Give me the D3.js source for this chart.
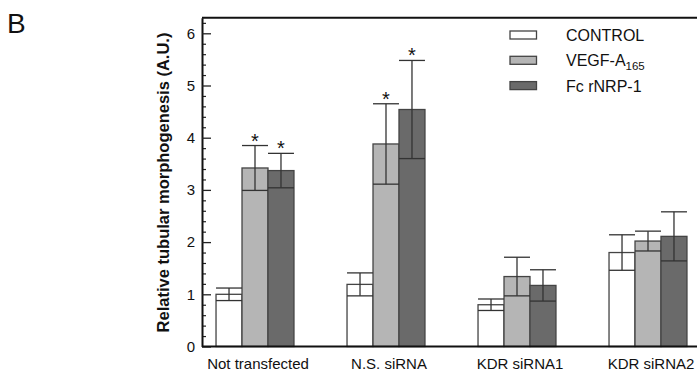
<!DOCTYPE html>
<html>
<head>
<meta charset="utf-8">
<script src="https://cdn.jsdelivr.net/npm/d3@7"></script>
<style>
  body { margin: 0; background: #fff; }
  text { font-family: "Liberation Sans", Arial, sans-serif; fill: #111; }
</style>
</head>
<body>
<svg width="697" height="372"></svg>
<script>
const categories = ["Not transfected", "N.S. siRNA", "KDR siRNA1", "KDR siRNA2"];
const series = ["CONTROL", "VEGF-A165", "Fc rNRP-1"];
const controlMean = [1.00, 1.19, 0.80, 1.80];
const controlErr  = [0.12, 0.22, 0.11, 0.34];
const vegfMean    = [3.42, 3.88, 1.34, 2.02];
const vegfErr     = [0.43, 0.77, 0.37, 0.19];
const fcMean      = [3.37, 4.54, 1.17, 2.11];
const fcErr       = [0.33, 0.94, 0.30, 0.47];
const vegfStar    = [true, true, false, false];
const fcStar      = [true, true, false, false];
const yTicks = [0, 1, 2, 3, 4, 5, 6];

const fills = ["#ffffff", "#b5b5b5", "#6a6a6a"];
const means = [controlMean, vegfMean, fcMean];
const errs = [controlErr, vegfErr, fcErr];
const stars = [controlMean.map(() => false), vegfStar, fcStar];

const svg = d3.select("svg");

const x0 = d3.scaleBand()
    .domain(categories)
    .range([189.5, 713.5])
    .paddingInner(0.405)
    .paddingOuter(0.2025);
const x1 = d3.scaleBand()
    .domain(series)
    .range([0, x0.bandwidth()]);
const y = d3.scaleLinear()
    .domain([0, 6.3])
    .range([346.5, 346.5 - 6.3 * 52.2]);

// bars
let rows = [];
categories.forEach((c, i) => {
  series.forEach((s, j) => {
    rows.push({cat: c, ser: s, j: j, m: means[j][i], e: errs[j][i], star: stars[j][i]});
  });
});

let g = svg.append("g");
g.selectAll("rect.bar")
  .data(rows)
  .enter().append("rect")
  .attr("class", "bar")
  .attr("x", d => x0(d.cat) + x1(d.ser))
  .attr("y", d => y(d.m))
  .attr("width", x1.bandwidth())
  .attr("height", d => y(0) - y(d.m))
  .attr("fill", d => fills[d.j])
  .attr("stroke", "#444")
  .attr("stroke-width", 1.3);

// error bars: vertical line with full-width caps top and bottom
let eb = g.selectAll("g.err")
  .data(rows)
  .enter().append("g")
  .attr("class", "err")
  .attr("stroke", "#333")
  .attr("stroke-width", 1.3);
eb.append("line")
  .attr("x1", d => x0(d.cat) + x1(d.ser) + x1.bandwidth() / 2)
  .attr("x2", d => x0(d.cat) + x1(d.ser) + x1.bandwidth() / 2)
  .attr("y1", d => y(d.m - d.e))
  .attr("y2", d => y(d.m + d.e));
eb.append("line")
  .attr("x1", d => x0(d.cat) + x1(d.ser))
  .attr("x2", d => x0(d.cat) + x1(d.ser) + x1.bandwidth())
  .attr("y1", d => y(d.m + d.e))
  .attr("y2", d => y(d.m + d.e));
eb.append("line")
  .attr("x1", d => x0(d.cat) + x1(d.ser))
  .attr("x2", d => x0(d.cat) + x1(d.ser) + x1.bandwidth())
  .attr("y1", d => y(d.m - d.e))
  .attr("y2", d => y(d.m - d.e));

g.selectAll("text.star")
  .data(rows.filter(d => d.star))
  .enter().append("text")
  .attr("class", "star")
  .attr("x", d => x0(d.cat) + x1(d.ser) + x1.bandwidth() / 2)
  .attr("y", d => y(d.m + d.e) + 2)
  .attr("text-anchor", "middle")
  .style("font-size", "20px")
  .text("*");

// axes
const left = 202;
svg.append("g")
  .attr("transform", "translate(" + left + ",0)")
  .call(d3.axisLeft(y).tickValues(d3.range(0.2, 6.3, 0.2).filter(v => Math.abs(v - Math.round(v)) > 0.01))
        .tickSize(-4).tickFormat(""))
  .call(a => a.select(".domain").remove())
  .selectAll("line").attr("stroke", "#222").attr("stroke-width", 1.2);

let ya = svg.append("g")
  .attr("transform", "translate(" + left + ",0)")
  .call(d3.axisLeft(y).tickValues(yTicks).tickSize(-9).tickPadding(7).tickSizeOuter(0).tickFormat(d3.format("d")));
ya.select(".domain").attr("stroke", "#111").attr("stroke-width", 2);
ya.selectAll(".tick line").attr("stroke", "#222").attr("stroke-width", 1.3);
ya.selectAll(".tick text").style("font-size", "15px").style("font-family", "Liberation Sans, Arial, sans-serif").attr("fill", "#111");

// top frame and baseline
svg.append("line").attr("x1", left).attr("x2", 697).attr("y1", y(6.3)).attr("y2", y(6.3))
  .attr("stroke", "#111").attr("stroke-width", 2);
svg.append("line").attr("x1", left).attr("x2", 697).attr("y1", y(0)).attr("y2", y(0))
  .attr("stroke", "#111").attr("stroke-width", 2);

// category labels
svg.selectAll("text.cat")
  .data(categories)
  .enter().append("text")
  .attr("class", "cat")
  .attr("x", d => x0(d) + x0.bandwidth() / 2 + 3)
  .attr("y", 369)
  .attr("text-anchor", "middle")
  .style("font-size", "15px")
  .text(d => d);

// y title
svg.append("text")
  .attr("transform", "translate(169,182.5) rotate(-90)")
  .attr("text-anchor", "middle")
  .style("font-size", "16.5px")
  .style("font-weight", "bold")
  .text("Relative tubular morphogenesis (A.U.)");

// panel letter
svg.append("text")
  .attr("x", 7).attr("y", 33)
  .style("font-size", "28px")
  .text("B");

// legend
let lg = svg.append("g").attr("transform", "translate(510,31)");
series.forEach((s, j) => {
  let row = lg.append("g").attr("transform", "translate(0," + j * 25.3 + ")");
  row.append("rect").attr("width", 26.5).attr("height", 8)
    .attr("fill", fills[j]).attr("stroke", "#444").attr("stroke-width", 1.3);
  let t = row.append("text").attr("x", 56).attr("y", 10).style("font-size", "16px");
  if (s === "VEGF-A165") {
    t.append("tspan").text("VEGF-A");
    t.append("tspan").attr("dy", 4).style("font-size", "11.5px").text("165");
  } else {
    t.text(s);
  }
});
</script>
</body>
</html>
